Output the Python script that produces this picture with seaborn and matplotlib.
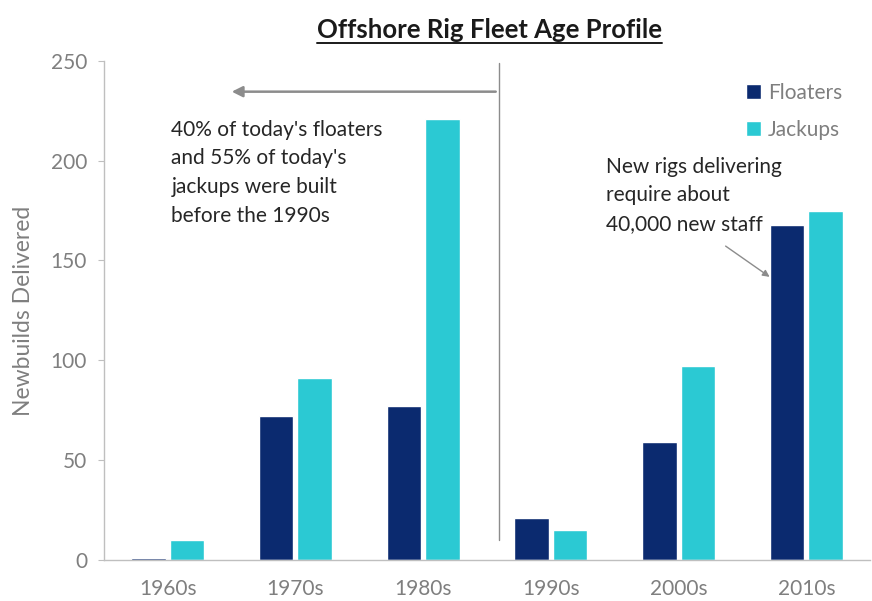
import pandas as pd
import seaborn as sns
import matplotlib.pyplot as plt
from matplotlib.lines import Line2D

# data
decades = ['1960s', '1970s', '1980s', '1990s', '2000s', '2010s']
floaters = [1, 72, 77, 21, 59, 168]
jackups = [10, 91, 221, 15, 97, 175]

df = pd.concat([
    pd.DataFrame({'decade': decades, 'count': floaters, 'type': 'Floaters'}),
    pd.DataFrame({'decade': decades, 'count': jackups, 'type': 'Jackups'})],
    ignore_index=True)

sns.set_style('white')
plt.rcParams['font.family'] = ['Lato', 'DejaVu Sans']

GREY = '#7f7f7f'
TXT = '#262626'

fig = plt.figure(figsize=(8.72, 6.01), dpi=100)
ax = fig.add_axes([0.119, 0.068, 0.879, 0.831])

sns.barplot(data=df, x='decade', y='count', hue='type', ax=ax,
            palette=['#0b2a6f', '#2bc9d3'], width=0.6, gap=0.1,
            saturation=1, errorbar=None)

ax.set_xlim(-0.5, 5.5)
ax.set_ylim(0, 250)
ax.set_yticks(range(0, 251, 50))
ax.set_xlabel('')
ax.set_ylabel('Newbuilds Delivered', color=GREY, fontsize=16.5, labelpad=12)
ax.tick_params(axis='both', colors=GREY, labelsize=15)
ax.tick_params(axis='y', left=True, length=4, width=0.8, color='#bfbfbf', pad=8)
ax.tick_params(axis='x', pad=10)
sns.despine(ax=ax, top=True, right=True)
for s in ['left', 'bottom']:
    ax.spines[s].set_color('#bfbfbf')
    ax.spines[s].set_linewidth(1)

# legend
leg = ax.legend(loc='upper right', bbox_to_anchor=(0.988, 0.993), frameon=False,
                fontsize=15, handlelength=0.7, handleheight=0.7,
                handletextpad=0.35, labelspacing=0.8)
for t in leg.get_texts():
    t.set_color(GREY)

# vertical divider and arrow
ax.plot([2.59, 2.59], [10, 249], color='#8c8c8c', lw=1)
ax.annotate('', xy=(0.48, 234.5), xytext=(2.59, 234.5),
            arrowprops=dict(arrowstyle='-|>', color='#8c8c8c', lw=1.8,
                            mutation_scale=16))

ax.text(0.03, 220.5, "40% of today's floaters\nand 55% of today's\njackups were built\nbefore the 1990s",
        fontsize=15, color=TXT, va='top', ha='left', linespacing=1.55)
ax.text(3.43, 202, 'New rigs delivering\nrequire about\n40,000 new staff',
        fontsize=15, color=TXT, va='top', ha='left', linespacing=1.55)
ax.annotate('', xy=(4.73, 141), xytext=(4.35, 158),
            arrowprops=dict(arrowstyle='-|>', color='#8c8c8c', lw=1,
                            mutation_scale=10))

# title with underline
title = fig.text(0.561, 0.95, 'Offshore Rig Fleet Age Profile', ha='center',
                 va='center', fontsize=18.5, fontweight='bold', color='#1a1a1a')
fig.canvas.draw()
bb = title.get_window_extent().transformed(fig.transFigure.inverted())
fig.add_artist(Line2D([bb.x0, bb.x1], [bb.y0 - 0.002, bb.y0 - 0.002],
                      transform=fig.transFigure, color='#1a1a1a', lw=1.4))

fig.savefig('out.png', dpi=100)
